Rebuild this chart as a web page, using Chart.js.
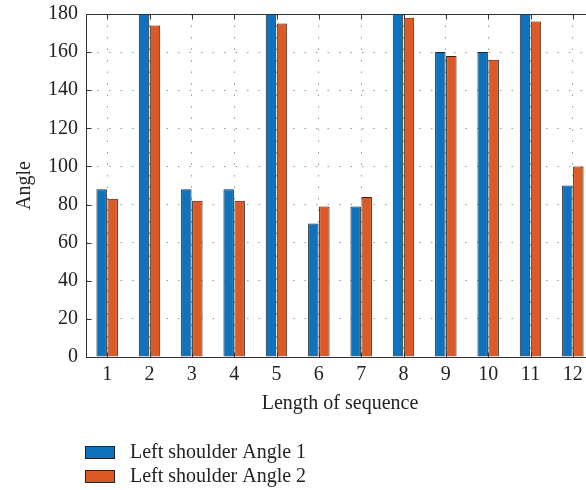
<!DOCTYPE html>
<html>
<head>
<meta charset="utf-8">
<script src="https://cdn.jsdelivr.net/npm/chart.js@4"></script>
<style>
  body { margin: 0; overflow: hidden; background: #fff; }
</style>
</head>
<body>
<canvas id="myChart" width="610" height="490"></canvas>
<script>
// data
var categories = ['1', '2', '3', '4', '5', '6', '7', '8', '9', '10', '11', '12'];
var angle1 = [88, 180, 88, 88, 180, 70, 79, 180, 160, 160, 180, 90];
var angle2 = [83, 174, 82, 82, 175, 79, 84, 178, 158, 156, 176, 100];
var seriesNames = ['Left shoulder Angle 1', 'Left shoulder Angle 2'];
var yTicks = [0, 20, 40, 60, 80, 100, 120, 140, 160, 180];

var FONT = '"Liberation Serif", "DejaVu Serif", serif';

// box round the plot, inward ticks, legend under the axis title
var frameAndLegend = {
    id: 'frameAndLegend',
    afterDraw: function (chart) {
        var ctx = chart.ctx;
        var a = chart.chartArea;
        var xs = chart.scales.x, ys = chart.scales.y;
        var L = Math.round(a.left) + 0.5, T = Math.round(a.top) + 0.5;
        var R = Math.round(a.right) + 0.5, B = Math.round(a.bottom) + 0.5;
        ctx.save();
        ctx.strokeStyle = '#333';
        ctx.lineWidth = 1;
        ctx.strokeRect(L, T, R - L, B - T);

        ctx.beginPath();
        xs.ticks.forEach(function (t, i) {
            var px = Math.round(xs.getPixelForTick(i)) + 0.5;
            ctx.moveTo(px, B); ctx.lineTo(px, B - 5);
            ctx.moveTo(px, T); ctx.lineTo(px, T + 5);
        });
        ys.ticks.forEach(function (t, i) {
            var py = Math.round(ys.getPixelForValue(t.value)) + 0.5;
            ctx.moveTo(L, py); ctx.lineTo(L + 5, py);
            ctx.moveTo(R, py); ctx.lineTo(R - 5, py);
        });
        ctx.stroke();

        ctx.font = '20px ' + FONT;
        ctx.textBaseline = 'middle';
        chart.data.datasets.forEach(function (ds, i) {
            var y = 446 + i * 24;
            ctx.fillStyle = ds.backgroundColor;
            ctx.fillRect(85, y, 30, 13);
            ctx.strokeStyle = '#222';
            ctx.strokeRect(85.5, y + 0.5, 29, 12);
            ctx.fillStyle = '#222';
            ctx.fillText(ds.label, 130, y + 7);
        });
        ctx.restore();
    }
};

var ctx = document.getElementById('myChart').getContext('2d');
var myChart = new Chart(ctx, {
    type: 'bar',
    data: {
        labels: categories,
        datasets: [{
            label: seriesNames[0],
            data: angle1,
            backgroundColor: '#0E72BD',
            borderColor: '#222',
            borderWidth: 1
        }, {
            label: seriesNames[1],
            data: angle2,
            backgroundColor: '#DC5A26',
            borderColor: '#222',
            borderWidth: 1
        }]
    },
    options: {
        responsive: false,
        animation: false,
        layout: { padding: { top: 14, right: 16, bottom: 70, left: 0 } },
        categoryPercentage: 0.52,
        barPercentage: 0.95,
        plugins: {
            legend: { display: false },
            tooltip: { enabled: false }
        },
        scales: {
            x: {
                offset: true,
                grid: { offset: false, color: '#999', drawTicks: false },
                border: { display: false, dash: [1.5, 10] },
                ticks: { color: '#222', font: { family: FONT, size: 20 }, padding: 6 },
                title: {
                    display: true,
                    text: 'Length of sequence',
                    color: '#222',
                    font: { family: FONT, size: 20 },
                    padding: { top: 5, bottom: 4 }
                },
                afterFit: function (scale) {
                    scale.height = 63;
                    scale.paddingLeft = 0;
                    scale.paddingRight = 0;
                }
            },
            y: {
                min: 0,
                max: 180,
                afterBuildTicks: function (scale) {
                    scale.ticks = yTicks.map(function (v) { return { value: v }; });
                },
                grid: { color: '#999', drawTicks: false },
                border: { display: false, dash: [1.5, 10] },
                ticks: { color: '#222', font: { family: FONT, size: 20 }, padding: 8 },
                title: {
                    display: true,
                    text: 'Angle',
                    color: '#222',
                    font: { family: FONT, size: 20 },
                    padding: { top: 13, bottom: 0 }
                },
                afterFit: function (scale) {
                    scale.width = 86;
                    scale.paddingTop = 0;
                    scale.paddingBottom = 0;
                }
            }
        }
    },
    plugins: [frameAndLegend]
});
</script>
</body>
</html>
